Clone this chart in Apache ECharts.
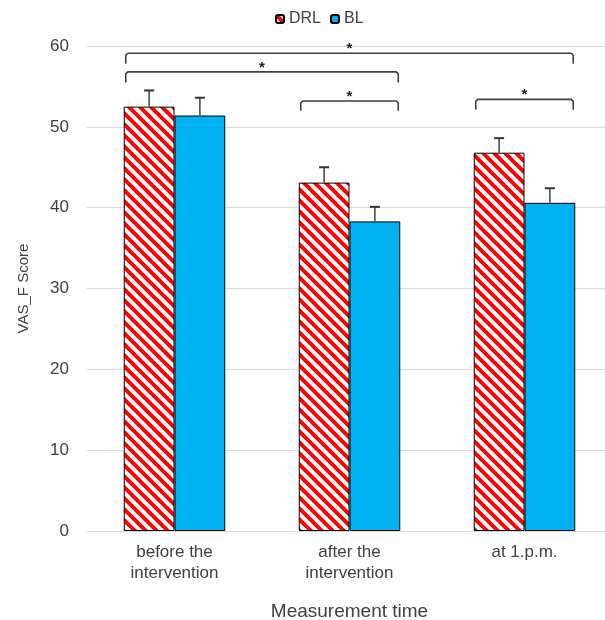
<!DOCTYPE html>
<html><head><meta charset="utf-8">
<script src="https://cdn.jsdelivr.net/npm/echarts@6/dist/echarts.min.js"></script>
<style>html,body{margin:0;padding:0;background:#fff}#c{width:605px;height:620px}</style>
</head><body><div id="c"></div>
<script>
const categories = ['before the\nintervention', 'after the\nintervention', 'at 1.p.m.'];
const drlValues = [52.5, 43.1, 46.8];
const drlErrors = [2.0, 1.9, 1.8];
const blValues = [51.4, 38.3, 40.6];
const blErrors = [2.2, 1.8, 1.8];
const yTicks = [0, 60, 10]; // min, max, interval
// significance brackets: [startCategory, endCategory, topValue, bottomValue]
const brackets = [
  [0, 2, 59.1, 57.8],
  [0, 1, 56.8, 55.5],
  [1, 1, 53.2, 52.0],
  [2, 2, 53.4, 52.1]
];

const FONT = '"Liberation Sans", Arial, sans-serif';
const BAR_FRAC = 0.29;
function makePattern() {
  const p = 11;
  const cv = document.createElement('canvas');
  cv.width = p; cv.height = p;
  const ctx = cv.getContext('2d');
  ctx.fillStyle = '#ffffff';
  ctx.fillRect(0, 0, p, p);
  ctx.strokeStyle = '#ff0000';
  ctx.lineWidth = 4;
  for (const k of [-p, 0, p]) {
    ctx.beginPath();
    ctx.moveTo(k - 1, -1);
    ctx.lineTo(k + p + 1, p + 1);
    ctx.stroke();
  }
  return cv;
}
const hatch = { image: makePattern(), repeat: 'repeat' };

function errRender(offset) {
  return function (params, api) {
    const cat = api.value(0);
    const base = api.coord([cat, api.value(1)]);
    const top = api.coord([cat, api.value(1) + api.value(2)]);
    const w = api.size([1, 0])[0] * BAR_FRAC;
    const x = base[0] + offset * w / 2;
    const st = { stroke: '#4d4d4d', lineWidth: 1.6 };
    return { type: 'group', children: [
      { type: 'line', shape: { x1: x, y1: base[1], x2: x, y2: top[1] }, style: st },
      { type: 'line', shape: { x1: x - 5, y1: top[1], x2: x + 5, y2: top[1] }, style: { stroke: '#333', lineWidth: 2 } }
    ]};
  };
}

function bracketRender(params, api) {
  const s = api.value(0), e = api.value(1);
  const w = api.size([1, 0])[0] * BAR_FRAC;
  const p1 = api.coord([s, api.value(2)]);
  const p2 = api.coord([e, api.value(2)]);
  const yb = api.coord([s, api.value(3)])[1];
  const x1 = p1[0] - w + 2, x2 = p2[0] + w - 2, y = p1[1];
  return { type: 'group', children: [
    { type: 'polyline', shape: { points: [[x1, yb], [x1, y + 2], [x1 + 2, y], [x2 - 2, y], [x2, y + 2], [x2, yb]] },
      style: { stroke: '#404040', lineWidth: 1.6, fill: null } },
    { type: 'text', style: { text: '*', x: (x1 + x2) / 2, y: y - 4, align: 'center', verticalAlign: 'middle',
      font: 'bold 15px ' + FONT, fill: '#222' } }
  ]};
}

const chart = echarts.init(document.getElementById('c'));
chart.setOption({
  animation: false,
  legend: {
    top: 6, left: 270, itemWidth: 8, itemHeight: 8, itemGap: 9,
    textStyle: { fontSize: 16, color: '#404040', fontFamily: FONT },
    data: ['DRL', 'BL']
  },
  grid: { left: 87, top: 46, width: 525, bottom: 89, outerBoundsMode: 'none', containLabel: false },
  xAxis: {
    type: 'category', data: categories,
    name: 'Measurement time', nameLocation: 'middle', nameGap: 71,
    nameTextStyle: { fontSize: 19, color: '#404040', fontFamily: FONT },
    axisLine: { lineStyle: { color: '#d9d9d9' } },
    axisTick: { show: false },
    axisLabel: { fontSize: 17, color: '#404040', lineHeight: 21, margin: 11, fontFamily: FONT }
  },
  yAxis: {
    type: 'value', min: yTicks[0], max: yTicks[1], interval: yTicks[2],
    name: 'VAS_F Score', nameLocation: 'middle', nameGap: 56,
    nameTextStyle: { fontSize: 15, color: '#404040', fontFamily: FONT },
    axisLine: { show: false }, axisTick: { show: false },
    axisLabel: { fontSize: 17, color: '#404040', margin: 18, fontFamily: FONT },
    splitLine: { lineStyle: { color: '#d9d9d9' } }
  },
  series: [
    { name: 'DRL', type: 'bar', data: drlValues, barWidth: (BAR_FRAC * 100) + '%', barGap: '0%',
      itemStyle: { color: hatch, borderColor: '#000', borderWidth: 1 } },
    { name: 'BL', type: 'bar', data: blValues, barWidth: (BAR_FRAC * 100) + '%',
      itemStyle: { color: '#00b0f0', borderColor: '#000', borderWidth: 1 } },
    { type: 'custom', renderItem: errRender(-1), encode: { x: 0, y: 1 }, z: 5,
      data: drlValues.map((v, i) => [i, v, drlErrors[i]]) },
    { type: 'custom', renderItem: errRender(1), encode: { x: 0, y: 1 }, z: 5,
      data: blValues.map((v, i) => [i, v, blErrors[i]]) },
    { type: 'custom', renderItem: bracketRender, encode: { x: 0, y: 2 }, z: 5, clip: false,
      data: brackets }
  ]
});
</script></body></html>
